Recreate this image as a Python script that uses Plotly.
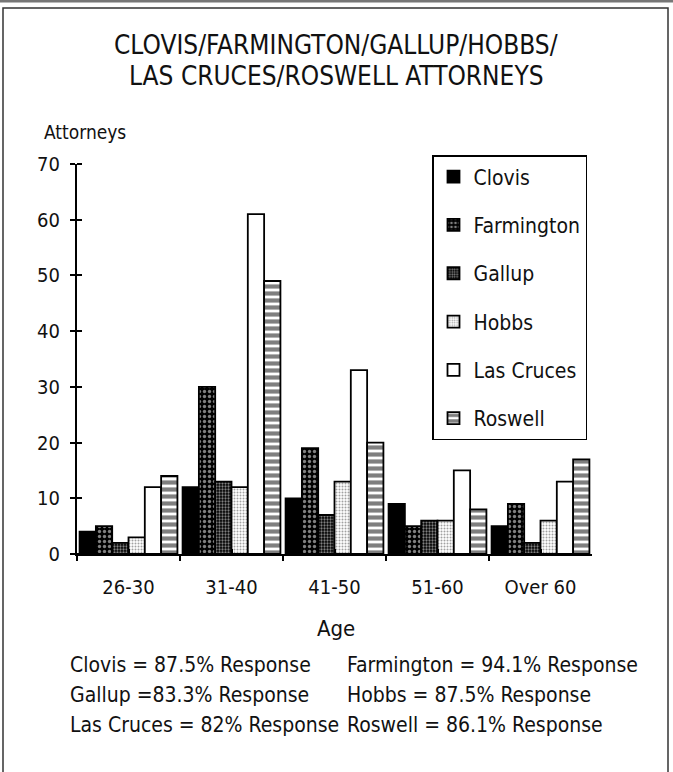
import plotly.graph_objects as go

# ---- data ----
categories = ["26-30", "31-40", "41-50", "51-60", "Over 60"]
clovis = [4, 12, 10, 9, 5]
farmington = [5, 30, 19, 5, 9]
gallup = [2, 13, 7, 6, 2]
hobbs = [3, 12, 13, 6, 6]
las_cruces = [12, 61, 33, 15, 13]
roswell = [14, 49, 20, 8, 17]
series_names = ["Clovis", "Farmington", "Gallup", "Hobbs", "Las Cruces", "Roswell"]
series_values = [clovis, farmington, gallup, hobbs, las_cruces, roswell]
y_ticks = [0, 10, 20, 30, 40, 50, 60, 70]
footer_left = ["Clovis = 87.5% Response", "Gallup =83.3% Response", "Las Cruces = 82% Response"]
footer_right = ["Farmington = 94.1% Response", "Hobbs = 87.5% Response", "Roswell = 86.1% Response"]

W, H = 673, 772
L, R, T, B = 77, 81, 164, 218
PW = W - L - R
PH = H - T - B


def px(x):
    return (x - L) / PW


def py(y):
    return (H - B - y) / PH


FONT = "Liberation Sans Narrow, DejaVu Sans Condensed, Arial Narrow, sans-serif"

styles = [
    dict(color="black", pattern=dict(shape="")),
    dict(color="black", pattern=dict(shape=".", fgcolor="white", size=5, solidity=0.35)),
    dict(color="black", pattern=dict(shape=".", fgcolor="white", bgcolor="black", size=3, solidity=0.45)),
    dict(color="white", pattern=dict(shape=".", fgcolor="#444", bgcolor="white", size=3, solidity=0.35)),
    dict(color="white", pattern=dict(shape="")),
    dict(color="white", pattern=dict(shape="-", fgcolor="black", bgcolor="white", size=7, solidity=0.6)),
]

fig = go.Figure()
for name, vals, st in zip(series_names, series_values, styles):
    fig.add_trace(go.Bar(
        name=name, x=categories, y=vals, legendgroup=name,
        marker=dict(color=st["color"], pattern=st["pattern"],
                    line=dict(color="black", width=1.8)),
    ))

fig.update_layout(
    width=W, height=H,
    margin=dict(l=L, r=R, t=T, b=B, pad=0),
    paper_bgcolor="white", plot_bgcolor="white",
    font=dict(family=FONT, size=20, color="#111"),
    barmode="group", bargap=0.05, bargroupgap=0,
    showlegend=True,
    legend=dict(x=px(432), y=py(155), xanchor="left", yanchor="top",
                bgcolor="white", bordercolor="black", borderwidth=1.5,
                font=dict(family=FONT, size=21, color="#111"),
                tracegroupgap=18, itemwidth=30),
    xaxis=dict(showline=True, linecolor="black", linewidth=2,
               ticks="outside", tickson="boundaries", ticklen=5, tickwidth=2,
               tickcolor="black", showgrid=False, ticklabelstandoff=14,
               tickfont=dict(size=20),
               minor=dict(ticks="inside", tickvals=[-0.5, 0.5, 1.5, 2.5, 3.5, 4.5],
                          ticklen=5, tickwidth=2, tickcolor="black", showgrid=False)),
    yaxis=dict(range=[0, 70], tickvals=y_ticks, showline=True, linecolor="black",
               linewidth=2, ticks="outside", ticklen=5, tickwidth=2, tickcolor="black",
               showgrid=False, zeroline=False, ticklabelstandoff=6,
               tickfont=dict(size=20),
               minor=dict(ticks="inside", tickvals=y_ticks, ticklen=5, tickwidth=2,
                          tickcolor="black", showgrid=False)),
)

ann = []
ann.append(dict(text="CLOVIS/FARMINGTON/GALLUP/HOBBS/", x=px(336), y=py(45),
                font=dict(size=26)))
ann.append(dict(text="LAS CRUCES/ROSWELL ATTORNEYS", x=px(336), y=py(76),
                font=dict(size=26)))
ann.append(dict(text="Attorneys", x=px(42), y=py(132), xanchor="left",
                font=dict(size=19)))
ann.append(dict(text="Age", x=px(336), y=py(628), font=dict(size=22)))
for i, t in enumerate(footer_left):
    ann.append(dict(text=t, x=px(68), y=py(665 + 30 * i), xanchor="left",
                    font=dict(size=21)))
for i, t in enumerate(footer_right):
    ann.append(dict(text=t, x=px(345), y=py(665 + 30 * i), xanchor="left",
                    font=dict(size=21)))
for a in ann:
    a.setdefault("xanchor", "center")
    a.update(xref="paper", yref="paper", yanchor="middle", showarrow=False)
fig.update_layout(annotations=ann)

fig.add_shape(type="rect", xref="paper", yref="paper",
              x0=px(3), x1=px(668), y0=py(790), y1=py(8),
              line=dict(color="#333", width=1.5), layer="below")
fig.add_shape(type="line", xref="paper", yref="paper",
              x0=px(0), x1=px(673), y0=py(1), y1=py(1),
              line=dict(color="#777", width=3))

fig.write_html("out.html", config={"displayModeBar": False},
               post_script="document.body.style.margin='0';")
